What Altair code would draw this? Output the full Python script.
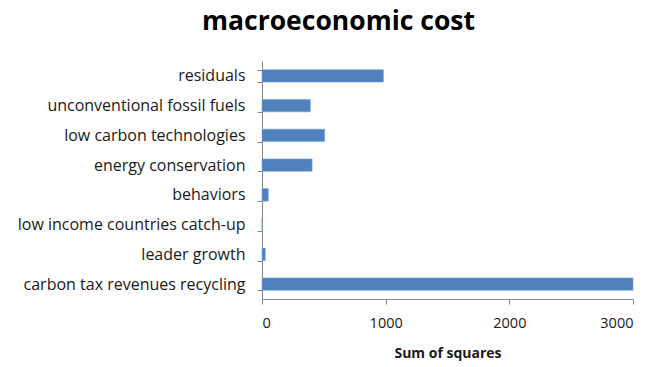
import altair as alt
import pandas as pd

# Decomposition terms and their sums of squares
factors = [
    "residuals",
    "unconventional fossil fuels",
    "low carbon technologies",
    "energy conservation",
    "behaviors",
    "low income countries catch-up",
    "leader growth",
    "carbon tax revenues recycling",
]
sum_of_squares = [982, 391, 507, 405, 51, 0, 27, 3000]
x_ticks = [0, 1000, 2000, 3000]

df = pd.DataFrame({"factor": factors, "ss": sum_of_squares})

FONT = "Open Sans"
AXIS_GRAY = "#868686"

bars = alt.Chart(df).mark_bar(
    color="#4F81BD", stroke="#7EA6D8", strokeWidth=0.6
).encode(
    x=alt.X(
        "ss:Q",
        scale=alt.Scale(domain=[0, 3000], nice=False),
        axis=alt.Axis(
            title="Sum of squares",
            values=x_ticks,
            format="d",
            grid=False,
            tickSize=5,
            labelPadding=12,
            labelFontSize=14.5,
            titlePadding=17,
        ),
    ),
    y=alt.Y(
        "factor:N",
        sort=factors,
        scale=alt.Scale(paddingInner=0.58, paddingOuter=0.29),
        axis=alt.Axis(
            title=None,
            tickBand="extent",
            tickSize=5,
            labelPadding=12,
            labelLimit=400,
            labelFontSize=16,
            grid=False,
        ),
    ),
)

chart = bars.properties(
    width=371,
    height=238,
    autosize=alt.AutoSizeParams(type="none"),
    padding={"left": 262, "top": 61, "right": 23, "bottom": 68},
    title=alt.TitleParams(
        "macroeconomic cost",
        font=FONT,
        fontSize=26.5,
        fontWeight="bold",
        color="#000000",
        anchor="middle",
        dx=-109,
        offset=18,
    ),
).configure_view(stroke=None).configure_axis(
    domainColor=AXIS_GRAY,
    tickColor=AXIS_GRAY,
    labelFont=FONT,
    labelColor="#1a1a1a",
    titleFont=FONT,
    titleFontSize=14,
    titleFontWeight="bold",
    titleColor="#1a1a1a",
)

chart.save("out.html", embed_options={"renderer": "svg", "actions": False})
